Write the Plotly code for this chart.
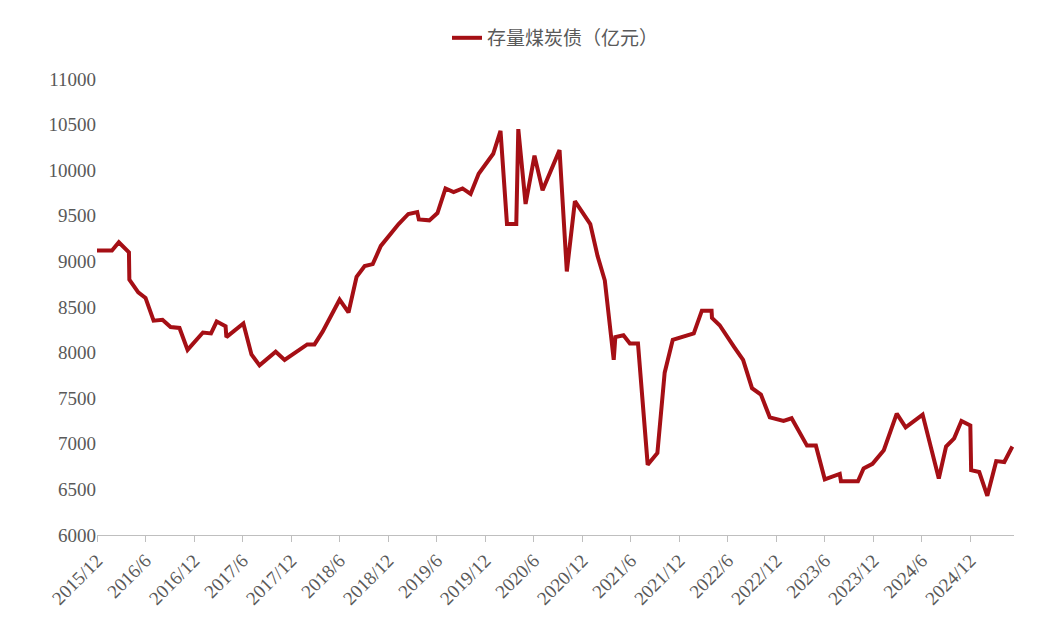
import plotly.graph_objects as go

# months since 2015/12
months = [0, 1.85, 2.7, 3.95, 4.0, 5.1, 6.0, 7.0, 8.1, 9.1, 10.2, 11.2, 13.1, 14.1, 14.8, 15.9, 16.0,
          18.1, 19.1, 20.1, 22.1, 23.2, 26.0, 26.9, 27.9, 30.0, 31.1, 32.1, 33.1, 34.1, 35.1, 36.3,
          37.3, 38.5, 39.6, 39.8, 41.1, 42.1, 43.1, 44.1, 45.2, 46.2, 47.2, 49.0, 49.9, 50.7, 51.85,
          52.1, 53.0, 54.1, 55.1, 57.2, 58.1, 59.1, 61.0, 61.9, 62.8, 63.9, 64.1, 65.1, 65.9, 66.9,
          68.1, 69.3, 70.2, 71.2, 72.8, 73.8, 74.8, 76.0, 76.05, 77.0, 78.8, 79.9, 81.0, 82.1, 83.2,
          84.9, 85.9, 87.8, 88.9, 90.0, 91.85, 92.0, 94.1, 94.8, 95.9, 97.3, 98.9, 100.0, 102.1,
          104.1, 105.0, 106.0, 106.9, 108.0, 108.1, 109.1, 110.1, 111.2, 112.2, 113.2]
values = [9120, 9120, 9210, 9100, 8800, 8660, 8600, 8350, 8360, 8280, 8270, 8030, 8220, 8210, 8340,
          8290, 8170, 8320, 7980, 7860, 8010, 7920, 8090, 8090, 8230, 8580, 8440, 8830, 8950, 8970,
          9170, 9300, 9410, 9520, 9540, 9460, 9450, 9530, 9800, 9760, 9800, 9740, 9960, 10180, 10430,
          9410, 9410, 10450, 9630, 10160, 9780, 10220, 8890, 9660, 9410, 9060, 8790, 7920, 8170, 8190,
          8100, 8100, 6770, 6900, 7780, 8140, 8180, 8210, 8460, 8460, 8380, 8300, 8060, 7920, 7610,
          7540, 7290, 7250, 7280, 6980, 6980, 6610, 6670, 6590, 6590, 6730, 6780, 6930, 7330, 7180,
          7320, 6620, 6970, 7060, 7250, 7200, 6710, 6690, 6430, 6810, 6800, 6970]
tick_pos = [0, 6, 12, 18, 24, 30, 36, 42, 48, 54, 60, 66, 72, 78, 84, 90, 96, 102, 108]
tick_text = ["2015/12", "2016/6", "2016/12", "2017/6", "2017/12", "2018/6", "2018/12", "2019/6",
             "2019/12", "2020/6", "2020/12", "2021/6", "2021/12", "2022/6", "2022/12", "2023/6",
             "2023/12", "2024/6", "2024/12"]
y_ticks = list(range(6000, 11001, 500))

fig = go.Figure(go.Scatter(x=months, y=values, mode="lines", name="存量煤炭债（亿元）",
                           line=dict(color="#A50F15", width=4)))
font = "Liberation Serif, Noto Sans CJK SC"
fig.update_layout(
    width=1045, height=625, plot_bgcolor="white", paper_bgcolor="white",
    margin=dict(l=89, r=39, t=71, b=98, autoexpand=False),
    font=dict(family=font, size=19, color="#595959"),
    showlegend=True,
    legend=dict(orientation="h", x=0.5, xanchor="center", y=1.09, yanchor="middle",
                font=dict(family="Noto Sans CJK SC", size=19, color="#595959")),
    xaxis=dict(range=[0, 113.4], tickvals=tick_pos, ticktext=tick_text, tickangle=-45,
               showgrid=False, zeroline=False, showline=True, linecolor="#BFBFBF",
               ticks="outside", tickcolor="#BFBFBF", ticklen=6, automargin=False),
    yaxis=dict(range=[6000, 11000], tickvals=y_ticks, tickformat="d", showgrid=False,
               zeroline=False, showline=False, ticks="", automargin=False),
)
fig.write_html("out.html")
